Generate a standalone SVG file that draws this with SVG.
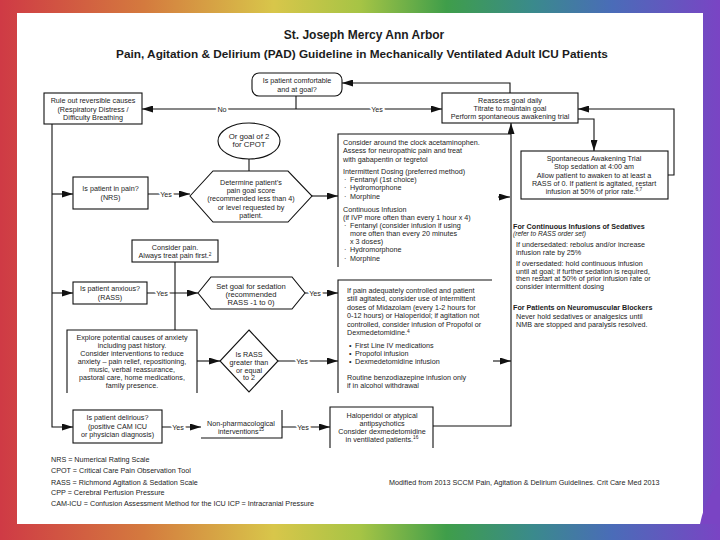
<svg xmlns="http://www.w3.org/2000/svg" width="720" height="540" viewBox="0 0 720 540">
<defs>
<linearGradient id="rb" x1="0" y1="0" x2="720" y2="0" gradientUnits="userSpaceOnUse">
<stop offset="0" stop-color="#cf3a45"/>
<stop offset="0.2" stop-color="#d47a3e"/>
<stop offset="0.38" stop-color="#d8c64a"/>
<stop offset="0.5" stop-color="#a6c445"/>
<stop offset="0.62" stop-color="#3f9e4a"/>
<stop offset="0.74" stop-color="#3a8a8c"/>
<stop offset="0.85" stop-color="#4a6cb8"/>
<stop offset="1" stop-color="#7a44c4"/>
</linearGradient>
<marker id="ah" markerWidth="11" markerHeight="7" refX="11" refY="3.5" orient="auto" markerUnits="userSpaceOnUse">
<path d="M0,0 L11,3.5 L0,7 z" fill="#111"/>
</marker>
<style>
.t{font-family:"Liberation Sans",Arial,sans-serif;font-size:7.2px;fill:#1c1c1c}
.c{text-anchor:middle}
.b{font-weight:bold}
.i{font-style:italic}
.box{fill:#fff;stroke:#111;stroke-width:1.1}
.ln{fill:none;stroke:#111;stroke-width:1.1}
.ar{marker-end:url(#ah)}
.lb{paint-order:stroke;stroke:#fff;stroke-width:4px;text-anchor:middle}
.sup{font-size:4.8px}
</style>
</defs>
<rect x="0" y="0" width="720" height="540" fill="url(#rb)"/>
<rect x="17" y="13" width="686" height="511" fill="#fff"/>
<path d="M720,482 Q706,496 700,524 H720 Z" fill="#7a44c4"/>

<g id="title">
<text class="t c b" x="364" y="39" style="font-size:12px">St. Joseph Mercy Ann Arbor</text>
<text class="t c b" x="362" y="58" style="font-size:11.8px">Pain, Agitation &amp; Delirium (PAD) Guideline in Mechanically Ventilated Adult ICU Patients</text>
</g>

<g id="connectors">
<path class="ln" d="M296,96 V109"/>
<path class="ln ar" d="M296,109 H142"/>
<path class="ln ar" d="M296,109 H442"/>
<path class="ln ar" d="M510,93 V83 H342"/>
<path class="ln ar" d="M578,119 H594 V151"/>
<path class="ln ar" d="M668,175 H674 V109 H578"/>
<path class="ln ar" d="M52,124 V427 H73"/>
<path class="ln ar" d="M52,194 H73"/>
<path class="ln ar" d="M52,293 H73"/>
<path class="ln ar" d="M148,194 H190"/>
<path class="ln" d="M249,159 V171"/>
<path class="ln ar" d="M312,196 H338"/>
<path class="ln ar" d="M498,197 H510"/>
<path class="ln ar" d="M147,293 H198"/>
<path class="ln" d="M175,262 V330"/>
<path class="ln ar" d="M305,293 H338"/>
<path class="ln ar" d="M197,361 H220"/>
<path class="ln ar" d="M278,361 H338"/>
<path class="ln ar" d="M493,361 H511"/>
<path class="ln ar" d="M162,427 H201"/>
<path class="ln ar" d="M282,427 H330"/>
<path class="ln ar" d="M433,426 H511 V123"/>
<text class="t lb" x="222" y="111.5">No</text>
<text class="t lb" x="377" y="111.5">Yes</text>
<text class="t lb" x="166" y="196.5">Yes</text>
<text class="t lb" x="162" y="295.5">Yes</text>
<text class="t lb" x="315" y="295.5">Yes</text>
<text class="t lb" x="302" y="363.5">Yes</text>
<text class="t lb" x="178" y="429.5">Yes</text>
<text class="t lb" x="303" y="429.5">Yes</text>
</g>

<g id="comfortable">
<rect class="box" x="252" y="73" width="90" height="23" rx="7"/>
<text class="t c" x="297" y="83">Is patient comfortable</text>
<text class="t c" x="297" y="91.5">and at goal?</text>
</g>

<g id="ruleout">
<rect class="box" x="44" y="93" width="98" height="31"/>
<text class="t c" x="93" y="103">Rule out reversible causes</text>
<text class="t c" x="93" y="111.5">(Respiratory Distress /</text>
<text class="t c" x="93" y="120">Difficulty Breathing</text>
</g>

<g id="reassess">
<rect class="box" x="442" y="93" width="136" height="30"/>
<text class="t c" x="510" y="103">Reassess goal daily</text>
<text class="t c" x="510" y="111">Titrate to maintain goal</text>
<text class="t c" x="510" y="119">Perform spontaneous awakening trial</text>
</g>

<g id="sat">
<rect class="box" x="521" y="151" width="147" height="48"/>
<text class="t c" x="594" y="160.5">Spontaneous Awakening Trial</text>
<text class="t c" x="594" y="168.5">Stop sedation at 4:00 am</text>
<text class="t c" x="594" y="177.5">Allow patient to awaken to at least a</text>
<text class="t c" x="594" y="185.5">RASS of 0.  If patient is agitated, restart</text>
<text class="t c" x="594" y="193.5">infusion at 50% of prior rate.<tspan class="sup" dy="-2.5">6,7</tspan></text>
</g>

<g id="cpot">
<ellipse class="box" cx="249" cy="141" rx="31" ry="18"/>
<text class="t c" x="249" y="138.5" style="font-size:7.8px">Or goal of 2</text>
<text class="t c" x="249" y="147" style="font-size:7.8px">for CPOT</text>
</g>

<g id="pain">
<rect class="box" x="73" y="177" width="75" height="32"/>
<text class="t c" x="110.5" y="191">Is patient in pain?</text>
<text class="t c" x="110.5" y="200">(NRS)</text>
</g>

<g id="paingoal">
<polygon class="box" points="190,196 213,171 288,171 312,196 288,222 213,222"/>
<text class="t c" x="251" y="185">Determine patient’s</text>
<text class="t c" x="251" y="193">pain goal score</text>
<text class="t c" x="251" y="201">(recommended less than 4)</text>
<text class="t c" x="251" y="209.5">or level requested by</text>
<text class="t c" x="251" y="217.5">patient.</text>
</g>

<g id="painmeds">
<path class="ln" d="M338,267 V134 H511"/>
<text class="t" x="343" y="144.5">Consider around the clock acetaminophen.</text>
<text class="t" x="343" y="152.5">Assess for neuropathic pain and treat</text>
<text class="t" x="343" y="161.5">with gabapentin or tegretol</text>
<text class="t" x="343" y="173.5">Intermittent Dosing (preferred method)</text>
<text class="t" x="344" y="181.5">·</text><text class="t" x="350" y="181.5">Fentanyl (1st choice)</text>
<text class="t" x="344" y="190">·</text><text class="t" x="350" y="190">Hydromorphone</text>
<text class="t" x="344" y="198.5">·</text><text class="t" x="350" y="198.5">Morphine</text>
<text class="t" x="343" y="211.5">Continuous Infusion</text>
<text class="t" x="343" y="219.5">(if IVP more often than every 1 hour x 4)</text>
<text class="t" x="344" y="227.5">·</text><text class="t" x="350" y="227.5">Fentanyl (consider infusion if using</text>
<text class="t" x="350" y="235.5">more often than every 20 minutes</text>
<text class="t" x="350" y="243.5">x 3 doses)</text>
<text class="t" x="344" y="252">·</text><text class="t" x="350" y="252">Hydromorphone</text>
<text class="t" x="344" y="260.5">·</text><text class="t" x="350" y="260.5">Morphine</text>
</g>

<g id="considerpain">
<rect class="box" x="132" y="240" width="86" height="22"/>
<text class="t c" x="175" y="249.5">Consider pain.</text>
<text class="t c" x="175" y="258">Always treat pain first.<tspan class="sup" dy="-2.5">2</tspan></text>
</g>

<g id="anxious">
<rect class="box" x="73" y="282" width="74" height="22"/>
<text class="t c" x="110" y="290.5">Is patient anxious?</text>
<text class="t c" x="110" y="299.5">(RASS)</text>
</g>

<g id="sedgoal">
<polygon class="box" points="198,293 211,277 292,277 305,293 292,309 211,309"/>
<text class="t c" x="251" y="288.5" style="font-size:7.6px">Set goal for sedation</text>
<text class="t c" x="251" y="296.5" style="font-size:7.6px">(recommended</text>
<text class="t c" x="251" y="304.5" style="font-size:7.6px">RASS -1 to 0)</text>
</g>

<g id="explore">
<path class="box" d="M67,393 V330 H197 V393"/>
<text class="t c" x="132" y="339.5">Explore potential causes of anxiety</text>
<text class="t c" x="132" y="347.5">including past history.</text>
<text class="t c" x="132" y="355.7">Consider interventions to reduce</text>
<text class="t c" x="132" y="363.9">anxiety – pain relief, repositioning,</text>
<text class="t c" x="132" y="372">music, verbal reassurance,</text>
<text class="t c" x="132" y="380.2">pastoral care, home medications,</text>
<text class="t c" x="132" y="388.4">family presence.</text>
</g>

<g id="rass">
<polygon class="box" points="249,330 278,361 249,392 220,361"/>
<text class="t c" x="249" y="357">Is RASS</text>
<text class="t c" x="249" y="365">greater than</text>
<text class="t c" x="249" y="372.5">or equal</text>
<text class="t c" x="249" y="380">to 2</text>
</g>

<g id="sedmeds">
<path class="ln" d="M338,393 V280 H492"/>
<text class="t" x="347" y="292.5">If pain adequately controlled and patient</text>
<text class="t" x="347" y="301">still agitated, consider use of intermittent</text>
<text class="t" x="347" y="309.5">doses of Midazolam (every 1-2 hours for</text>
<text class="t" x="347" y="318">0-12 hours) or Haloperidol; if agitation not</text>
<text class="t" x="347" y="326.5">controlled, consider infusion of Propofol or</text>
<text class="t" x="347" y="335">Dexmedetomidine.<tspan class="sup" dy="-2.5">4</tspan></text>
<text class="t" x="349" y="347.5">•</text><text class="t" x="355" y="347.5">First Line IV medications</text>
<text class="t" x="349" y="355.5">•</text><text class="t" x="355" y="355.5">Propofol infusion</text>
<text class="t" x="349" y="363.5">•</text><text class="t" x="355" y="363.5">Dexmedetomidine infusion</text>
<text class="t" x="347" y="379.5">Routine benzodiazepine infusion only</text>
<text class="t" x="347" y="388">if in alcohol withdrawal</text>
</g>

<g id="sedatives">
<text class="t b" x="513" y="228.5">For Continuous Infusions of Sedatives</text>
<text class="t i" x="513" y="236" style="font-size:6.6px">(refer to RASS order set)</text>
<text class="t" x="516" y="247">If undersedated: rebolus and/or increase</text>
<text class="t" x="516" y="254.5">infusion rate by 25%</text>
<text class="t" x="516" y="266">If oversedated:  hold continuous infusion</text>
<text class="t" x="516" y="273.5">until at goal; if further sedation is required,</text>
<text class="t" x="516" y="281">then restart at 50% of prior infusion rate or</text>
<text class="t" x="516" y="288.5">consider intermittent dosing</text>
<text class="t b" x="513" y="309.5">For Patients on Neuromuscular Blockers</text>
<text class="t" x="516" y="319">Never hold sedatives or analgesics until</text>
<text class="t" x="516" y="326.5">NMB are stopped and paralysis resolved.</text>
</g>

<g id="delirious">
<rect class="box" x="73" y="410" width="89" height="33"/>
<text class="t c" x="117.5" y="419.5">Is patient delirious?</text>
<text class="t c" x="117.5" y="428.5">(positive CAM ICU</text>
<text class="t c" x="117.5" y="437">or physician diagnosis)</text>
</g>

<g id="nonpharm">
<path class="ln" d="M201,438 H282 V410"/>
<text class="t c" x="241" y="425.5">Non-pharmacological</text>
<text class="t c" x="241" y="433.5">interventions<tspan class="sup" dy="-2.5">15</tspan></text>
</g>

<g id="haloperidol">
<path class="box" d="M330,448 V407 H433 V448"/>
<text class="t c" x="382" y="417.5">Haloperidol or atypical</text>
<text class="t c" x="382" y="425.5">antipsychotics</text>
<text class="t c" x="382" y="433.5">Consider dexmedetomidine</text>
<text class="t c" x="382" y="441.5">in ventilated patients.<tspan class="sup" dy="-2.5">16</tspan></text>
</g>

<g id="footer">
<text class="t" x="51" y="462">NRS = Numerical Rating Scale</text>
<text class="t" x="51" y="473">CPOT = Critical Care Pain Observation Tool</text>
<text class="t" x="51" y="484.5">RASS = Richmond Agitation &amp; Sedation Scale</text>
<text class="t" x="51" y="495">CPP = Cerebral Perfusion Pressure</text>
<text class="t" x="51" y="506">CAM-ICU = Confusion Assessment Method for the ICU ICP = Intracranial Pressure</text>
<text class="t" x="389" y="484.5">Modified from 2013 SCCM Pain, Agitation &amp; Delirium Guidelines. Crit Care Med 2013</text>
</g>
</svg>
